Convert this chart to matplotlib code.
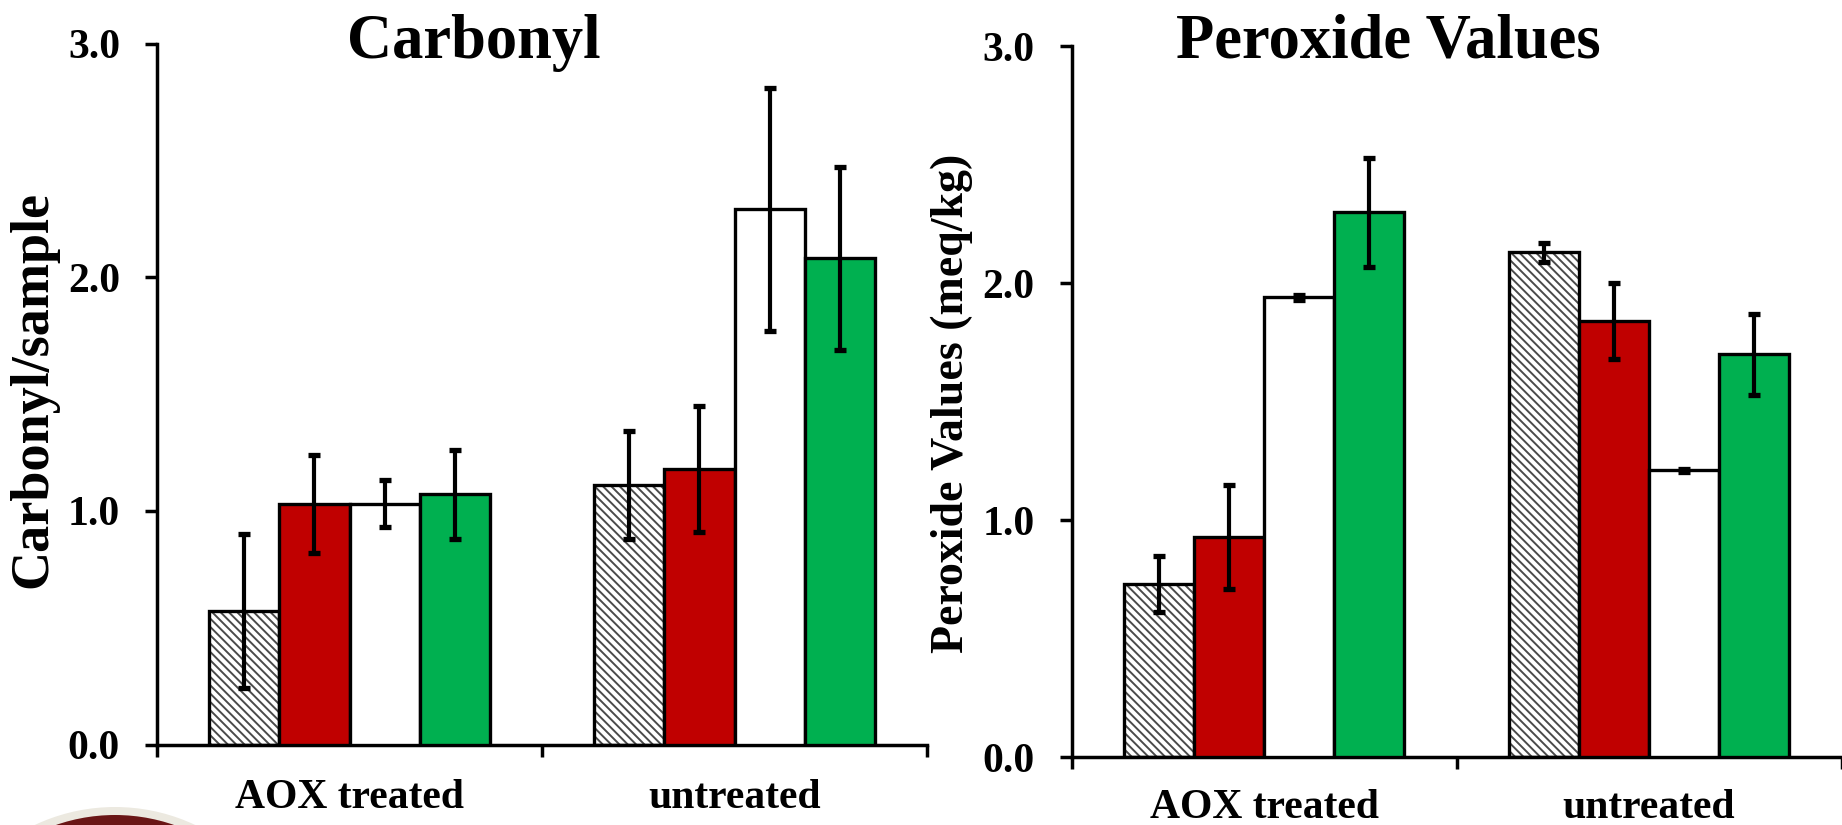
import matplotlib
matplotlib.use('Agg')
import matplotlib.pyplot as plt
import numpy as np
from matplotlib.patches import Ellipse

# ---------------- data ----------------
categories = ['AOX treated', 'untreated']
ytick_values = [0.0, 1.0, 2.0, 3.0]
ytick_labels = ['0.0', '1.0', '2.0', '3.0']

# Carbonyl (4 series, values for [AOX treated, untreated])
carb_hatched = [0.57, 1.11]
carb_hatched_err = [0.33, 0.23]
carb_red = [1.03, 1.18]
carb_red_err = [0.21, 0.27]
carb_white = [1.03, 2.29]
carb_white_err = [0.10, 0.52]
carb_green = [1.07, 2.08]
carb_green_err = [0.19, 0.39]

# Peroxide values
perox_hatched = [0.73, 2.13]
perox_hatched_err = [0.12, 0.04]
perox_red = [0.93, 1.84]
perox_red_err = [0.22, 0.16]
perox_white = [1.94, 1.21]
perox_white_err = [0.012, 0.006]
perox_green = [2.30, 1.70]
perox_green_err = [0.23, 0.17]

series_colors = ['white', '#C00000', 'white', '#00B050']

# ---------------- style ----------------
plt.rcParams['font.family'] = ['Liberation Serif', 'DejaVu Serif']
plt.rcParams['font.weight'] = 'bold'
plt.rcParams['hatch.linewidth'] = 1.4

W, H = 1842, 825
fig = plt.figure(figsize=(W / 100, H / 100), dpi=100)


def px_axes(x0, x1, y_top, y_bottom):
    return fig.add_axes([x0 / W, (H - y_bottom) / H, (x1 - x0) / W, (y_bottom - y_top) / H])


def draw(ax, vals_list, errs_list, label_pad):
    x = np.arange(len(categories))
    w = 0.182
    for i, (vals, errs) in enumerate(zip(vals_list, errs_list)):
        pos = x + (i - 1.5) * w
        if i == 0:
            ax.bar(pos, vals, w, color='white', edgecolor='#4a4a4a', hatch='\\\\\\\\',
                   linewidth=0, zorder=2)
            ax.bar(pos, vals, w, facecolor='none', edgecolor='black', linewidth=2.4, zorder=3)
        else:
            ax.bar(pos, vals, w, color=series_colors[i], edgecolor='black', linewidth=2.4, zorder=3)
        ax.errorbar(pos, vals, yerr=errs, fmt='none', ecolor='black', elinewidth=3.0,
                    capsize=4.5, capthick=3.8, zorder=4)
    ax.set_xlim(-0.5, len(categories) - 0.5)
    ax.set_ylim(0, 3)
    for s in ['top', 'right']:
        ax.spines[s].set_visible(False)
    for s in ['left', 'bottom']:
        ax.spines[s].set_linewidth(2.5)
    ax.set_yticks(ytick_values)
    ax.set_yticklabels(ytick_labels, fontsize=30, fontweight='bold')
    ax.tick_params(axis='y', direction='out', length=8.6, width=2.5, pad=18)
    ax.set_xticks(x)
    ax.set_xticklabels(categories, fontsize=30, fontweight='bold')
    ax.tick_params(axis='x', which='major', length=0, pad=label_pad)
    ax.set_xticks(np.arange(len(categories) + 1) - 0.5, minor=True)
    ax.tick_params(axis='x', which='minor', direction='out', length=8.6, width=2.5)


ax1 = px_axes(157, 927, 43.5, 744.5)
draw(ax1, [carb_hatched, carb_red, carb_white, carb_green],
     [carb_hatched_err, carb_red_err, carb_white_err, carb_green_err], 25)

ax2 = px_axes(1071.5, 1841.5, 46.3, 757)
draw(ax2, [perox_hatched, perox_red, perox_white, perox_green],
     [perox_hatched_err, perox_red_err, perox_white_err, perox_green_err], 23)

# titles
fig.text(474 / W, 1 - 58 / H, 'Carbonyl', fontsize=45, fontweight='bold', ha='center', va='baseline')
fig.text(1388 / W, 1 - 57 / H, 'Peroxide Values', fontsize=45, fontweight='bold', ha='center', va='baseline')

# y labels
fig.text(33 / W, 1 - 390 / H, 'Carbonyl/sample', fontsize=39, fontweight='bold',
         rotation=90, ha='center', va='center')
fig.text(952 / W, 1 - 403 / H, 'Peroxide Values (meq/kg)', fontsize=33, fontweight='bold',
         rotation=90, ha='center', va='center')

# partial logo in the lower-left corner
fig.patches.append(Ellipse((115 / W, 1 - 995 / H), 2 * 188 / W, 2 * 188 / H,
                           transform=fig.transFigure, facecolor='#ECE9E0', edgecolor='none', zorder=0))
fig.patches.append(Ellipse((115 / W, 1 - 995 / H), 2 * 180 / W, 2 * 180 / H,
                           transform=fig.transFigure, facecolor='#6A1616', edgecolor='none', zorder=0))

fig.savefig('out.png', dpi=100)
